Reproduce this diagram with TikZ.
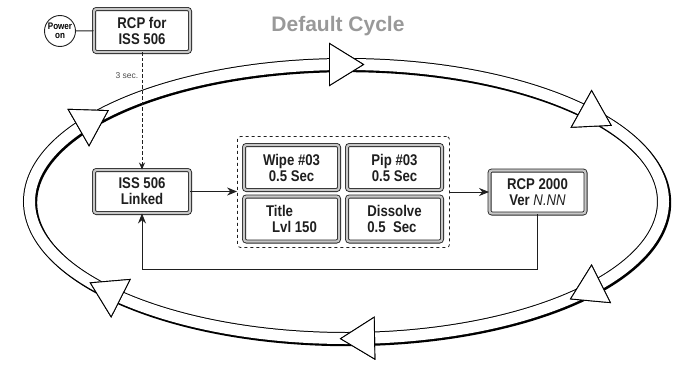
\documentclass[tikz,border=0pt]{standalone}
\usepackage{fontspec}
\setmainfont{Liberation Sans}
\newfontfamily\condfont{Liberation Sans}[FakeStretch=0.85]
\usetikzlibrary{arrows.meta}
\usetikzlibrary{positioning}

\begin{document}
\begin{tikzpicture}
  [x=1pt, y=-1pt,
   box/.style = {draw=black!85, double=black!22, double distance=2.2pt,
     line width=0.9pt, rounded corners=2.5pt, fill=white,
     minimum width=96pt, minimum height=43pt, inner sep=0pt, align=center,
     text=black!88, font=\condfont\bfseries\fontsize{15.5}{16}\selectfont},
   stepbox/.style = {box, minimum width=95pt, minimum height=45pt},
   link/.style = {draw=black!88, line width=0.9pt,
     -{Stealth[length=10pt, width=8pt]}},
   band/.style = {line width=#1},
   head/.style = {line width=0.9pt, line join=miter}]
  \useasboundingbox (0,0) rectangle (677,364);

  % the default cycle, drawn as a band with a shadow
  \draw [band=13pt, black, shift={(1.2,1.2)}] (346.5,201.5) ellipse [x radius=317pt, y radius=137pt];
  \draw [band=13pt, black] (346.5,201.5) ellipse [x radius=317pt, y radius=137pt];
  \draw [band=11pt, white] (346.5,201.5) ellipse [x radius=317pt, y radius=137pt];
  \foreach \t in {90, 38, -41, -88, -139.5, 143} {
    \pgfmathsetmacro\px{346.5+317*cos(\t)}
    \pgfmathsetmacro\py{201.5-137*sin(\t)}
    \pgfmathsetmacro\dx{317*sin(\t)}
    \pgfmathsetmacro\dy{137*cos(\t)}
    \pgfmathsetmacro\len{veclen(\dx,\dy)}
    \pgfmathsetmacro\ux{\dx/\len}
    \pgfmathsetmacro\uy{\dy/\len}
    \coordinate (tip) at (\px+17*\ux, \py+17*\uy);
    \coordinate (left) at (\px-17*\ux+21*\uy, \py-17*\uy-21*\ux);
    \coordinate (right) at (\px-17*\ux-21*\uy, \py-17*\uy+21*\ux);
    \filldraw [head, black, shift={(1.3,1.3)}] (tip) -- (left) -- (right) -- cycle;
    \filldraw [head, fill=white, draw=black] (tip) -- (left) -- (right) -- cycle;
  }

  \node (title) [font=\bfseries\fontsize{21}{21}\selectfont, text=black!40] at (338,26) {Default Cycle};

  \node (power) [circle, draw=black!88, line width=0.9pt, minimum size=31pt, inner sep=0pt,
    align=center, font=\condfont\bfseries\fontsize{9.5}{8.5}\selectfont] at (60,31) {Power\\on};
  \node (rcp) [box] at (142,30.5) {RCP for\\ISS 506};
  \node (iss) [box] at (142,191.5) {ISS 506\\Linked};

  \node (steps) [draw=black!88, dashed, line width=0.8pt, rounded corners=3pt,
    minimum width=212pt, minimum height=111pt] at (343.5,192) {};
  \node (wipe) [stepbox] at (291.5,167.5) {Wipe \#03\\0.5 Sec};
  \node (pip) [stepbox] at (394.5,167.5) {Pip \#03\\0.5 Sec};
  \node (ttl) [stepbox, align=left] at (291.5,219) {Title\\\hspace*{6pt}Lvl 150};
  \node (dissolve) [stepbox, align=left] at (394.5,219) {Dissolve\\0.5\ \ Sec};

  \node (ver) [box] at (537.5,192) {RCP 2000\\Ver {\mdseries\itshape N.NN}};

  \draw [draw=black!88, line width=0.9pt] (power) -- (rcp);
  \draw [link, dashed, dash pattern=on 3.5pt off 2pt, -{Stealth[length=7pt, width=6pt]}] (rcp) -- (iss)
    node (delay) [pos=0.2, left, text=black!70, font=\fontsize{8.5}{8.5}\selectfont] {3 sec.};
  \draw [link] (iss.east) -- (iss.east -| steps.west);
  \draw [link] (ver.west -| steps.east) -- (ver.west);
  \draw [link] (ver.south) -- ++(0,55) -| (iss.south);
\end{tikzpicture}
\end{document}
